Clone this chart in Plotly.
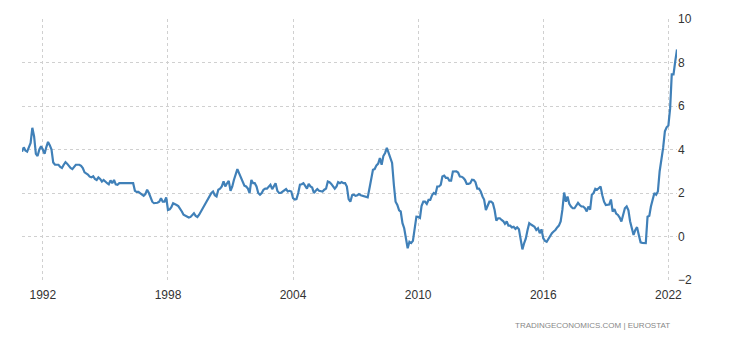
import pandas as pd
import plotly.graph_objects as go

# Monthly inflation rate (%), Jan 1991 - Jun 2022
y1991 = [3.9, 4.1, 3.95, 3.9, 4.1, 4.3, 5.0, 4.6, 3.8, 3.7, 4.0, 4.15]
y1992 = [4.0, 3.8, 4.1, 4.35, 4.2, 4.0, 3.4, 3.3, 3.3, 3.3, 3.2, 3.15]
y1993 = [3.3, 3.42, 3.35, 3.22, 3.15, 3.1, 3.2, 3.3, 3.3, 3.3, 3.25, 3.15]
y1994 = [2.95, 2.9, 2.85, 2.75, 2.72, 2.77, 2.65, 2.6, 2.72, 2.65, 2.53, 2.6]
y1995 = [2.5, 2.45, 2.4, 2.58, 2.45, 2.6, 2.4, 2.38, 2.45, 2.45, 2.45, 2.45]
y1996 = [2.45, 2.45, 2.45, 2.45, 2.45, 2.1, 2.05, 2.05, 2.0, 1.95, 1.87, 1.95]
y1997 = [2.15, 2.0, 1.76, 1.6, 1.53, 1.53, 1.55, 1.6, 1.76, 1.6, 1.6, 1.8]
y1998 = [1.22, 1.25, 1.35, 1.53, 1.5, 1.45, 1.4, 1.3, 1.15, 1.0, 0.95, 0.88]
y1999 = [0.87, 0.9, 1.0, 1.07, 0.95, 0.9, 1.0, 1.15, 1.25, 1.38, 1.53, 1.7]
y2000 = [1.84, 2.0, 2.07, 1.9, 1.84, 2.15, 2.2, 2.3, 2.53, 2.3, 2.45, 2.56]
y2001 = [2.1, 2.3, 2.6, 2.85, 3.1, 2.9, 2.69, 2.5, 2.34, 2.3, 2.2, 2.0]
y2002 = [2.6, 2.45, 2.45, 2.3, 2.0, 1.92, 2.0, 2.15, 2.2, 2.2, 2.3, 2.38]
y2003 = [2.18, 2.3, 2.45, 2.1, 2.0, 2.0, 2.07, 2.15, 2.18, 2.07, 2.1, 2.07]
y2004 = [1.76, 1.7, 1.72, 2.0, 2.38, 2.4, 2.45, 2.33, 2.2, 2.42, 2.3, 2.25]
y2005 = [2.0, 2.1, 2.18, 2.1, 2.07, 2.07, 2.15, 2.2, 2.53, 2.5, 2.42, 2.3]
y2006 = [2.2, 2.3, 2.5, 2.45, 2.5, 2.45, 2.45, 2.3, 1.72, 1.6, 1.9, 1.92]
y2007 = [1.87, 1.9, 1.95, 1.9, 1.87, 1.84, 1.84, 1.8, 2.22, 2.69, 3.07, 3.1]
y2008 = [3.27, 3.35, 3.61, 3.3, 3.7, 3.84, 4.07, 3.84, 3.6, 3.38, 2.38, 1.6]
y2009 = [1.45, 1.2, 1.15, 0.61, 0.38, -0.1, -0.54, -0.24, -0.3, -0.2, 0.38, 0.91]
y2010 = [0.9, 0.85, 1.4, 1.6, 1.6, 1.5, 1.68, 1.68, 1.9, 2.0, 1.95, 2.3]
y2011 = [2.3, 2.38, 2.76, 2.8, 2.7, 2.7, 2.57, 2.57, 2.99, 3.0, 3.0, 2.94]
y2012 = [2.76, 2.75, 2.7, 2.6, 2.42, 2.42, 2.45, 2.61, 2.6, 2.5, 2.2, 2.2]
y2013 = [2.07, 1.84, 1.7, 1.22, 1.45, 1.6, 1.6, 1.53, 1.22, 0.73, 0.84, 0.84]
y2014 = [0.76, 0.7, 0.58, 0.69, 0.5, 0.5, 0.42, 0.45, 0.35, 0.42, 0.33, -0.16]
y2015 = [-0.59, -0.3, -0.1, 0.3, 0.61, 0.55, 0.5, 0.45, 0.3, 0.38, 0.15, 0.33]
y2016 = [-0.08, -0.2, -0.24, -0.1, 0.03, 0.15, 0.23, 0.3, 0.42, 0.5, 0.69, 1.22]
y2017 = [2.02, 1.6, 1.84, 1.5, 1.38, 1.3, 1.3, 1.45, 1.55, 1.45, 1.38, 1.38]
y2018 = [1.3, 1.15, 1.38, 1.23, 1.92, 2.0, 2.19, 2.15, 2.23, 2.3, 1.9, 1.6]
y2019 = [1.45, 1.47, 1.47, 1.7, 1.15, 1.26, 1.05, 0.99, 0.87, 0.69, 1.0, 1.3]
y2020 = [1.38, 1.2, 0.7, 0.4, 0.07, 0.3, 0.43, 0.07, -0.27, -0.29, -0.3, -0.3]
y2021 = [0.91, 0.95, 1.38, 1.64, 2.0, 1.92, 2.07, 3.0, 3.45, 4.07, 4.84, 5.02]
y2022 = [5.1, 5.9, 7.45, 7.45, 8.05, 8.6]

values = (y1991 + y1992 + y1993 + y1994 + y1995 + y1996 + y1997 + y1998 +
          y1999 + y2000 + y2001 + y2002 + y2003 + y2004 + y2005 + y2006 +
          y2007 + y2008 + y2009 + y2010 + y2011 + y2012 + y2013 + y2014 +
          y2015 + y2016 + y2017 + y2018 + y2019 + y2020 + y2021 + y2022)
dates = pd.date_range("1991-01-01", periods=len(values), freq="MS")

x_tick_years = [1992, 1998, 2004, 2010, 2016, 2022]
y_ticks = [-2, 0, 2, 4, 6, 8, 10]
source_text = "TRADINGECONOMICS.COM | EUROSTAT"

fig = go.Figure()
fig.add_trace(go.Scatter(
    x=dates, y=values, mode="lines",
    line=dict(color="#4080b8", width=2.2),
    hoverinfo="skip",
))

fig.update_layout(
    width=722, height=332,
    margin=dict(l=14, r=53, t=11, b=60, autoexpand=False),
    paper_bgcolor="white", plot_bgcolor="white",
    showlegend=False,
    font=dict(family="Liberation Sans, Arial, sans-serif", size=12, color="#333333"),
)
fig.update_xaxes(
    range=[dates[0], dates[-1]],
    tickvals=[pd.Timestamp(f"{y}-01-01") for y in x_tick_years],
    ticktext=[str(y) for y in x_tick_years],
    showgrid=True, gridcolor="#d0d0d0", griddash="dot", gridwidth=1,
    showline=False, zeroline=False, ticks="", automargin=False,
    ticklabelstandoff=6,
    tickfont=dict(size=12, color="#333333"),
)
fig.update_yaxes(
    side="right", range=[-2, 10], tickvals=y_ticks,
    showgrid=True, gridcolor="#d0d0d0", griddash="dot", gridwidth=1,
    showline=False, zeroline=False, ticks="", automargin=False,
    tickfont=dict(size=12, color="#333333"),
)
fig.add_annotation(
    text=source_text, xref="paper", yref="paper",
    x=0.993, y=-0.15, xanchor="right", yanchor="top",
    showarrow=False, font=dict(size=8, color="#888888"),
)

fig.write_html("out.html")
